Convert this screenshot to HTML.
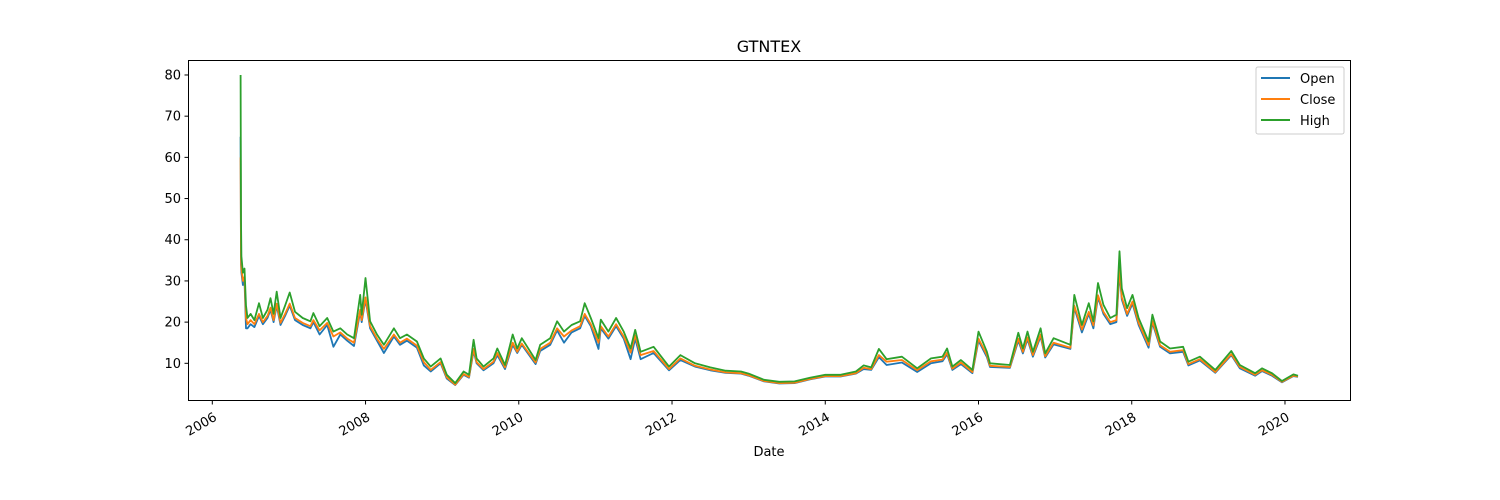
<!DOCTYPE html>
<html><head><meta charset="utf-8"><style>
body{margin:0;background:#fff;}
svg{display:block;font-family:"DejaVu Sans","Liberation Sans",sans-serif;}
</style></head><body>
<svg id="chart" width="1500" height="500" viewBox="0 0 1500 500" xmlns="http://www.w3.org/2000/svg">
<rect width="1500" height="500" fill="#fff"/>
<text x="769" y="52" font-size="16" text-anchor="middle">GTNTEX</text>
<g id="plot"></g>
<rect x="188.5" y="60.5" width="1162" height="340" fill="none" stroke="#000" stroke-width="1"/>
<g id="axes"></g>
<text x="769" y="456" font-size="13" text-anchor="middle">Date</text>
<g>
<rect x="1256" y="67" width="88" height="67" rx="2" fill="#fff" stroke="#ccc"/>
<line x1="1261" y1="78" x2="1290" y2="78" stroke="#1f77b4" stroke-width="2"/>
<text x="1300" y="83" font-size="13">Open</text>
<line x1="1261" y1="99" x2="1290" y2="99" stroke="#ff7f0e" stroke-width="2"/>
<text x="1300" y="104" font-size="13">Close</text>
<line x1="1261" y1="120" x2="1290" y2="120" stroke="#2ca02c" stroke-width="2"/>
<text x="1300" y="125" font-size="13">High</text>
</g>
</svg>
<script>
const dates=[2006.37,2006.375,2006.38,2006.40,2006.42,2006.44,2006.46,2006.50,2006.55,2006.61,2006.66,2006.72,2006.76,2006.80,2006.84,2006.89,2006.95,2007.01,2007.08,2007.18,2007.28,2007.32,2007.40,2007.50,2007.58,2007.67,2007.76,2007.85,2007.93,2007.95,2008.00,2008.06,2008.15,2008.24,2008.37,2008.45,2008.54,2008.67,2008.76,2008.85,2008.98,2009.06,2009.17,2009.28,2009.35,2009.41,2009.45,2009.54,2009.67,2009.72,2009.82,2009.92,2009.98,2010.04,2010.22,2010.28,2010.41,2010.50,2010.59,2010.69,2010.80,2010.86,2010.94,2011.04,2011.07,2011.17,2011.27,2011.37,2011.46,2011.52,2011.59,2011.76,2011.96,2012.11,2012.30,2012.50,2012.70,2012.90,2013.00,2013.20,2013.40,2013.60,2013.80,2014.00,2014.20,2014.40,2014.50,2014.60,2014.70,2014.80,2015.00,2015.20,2015.38,2015.53,2015.59,2015.66,2015.77,2015.92,2016.00,2016.11,2016.15,2016.41,2016.52,2016.58,2016.64,2016.71,2016.81,2016.87,2016.98,2017.20,2017.25,2017.35,2017.44,2017.50,2017.56,2017.63,2017.72,2017.80,2017.84,2017.87,2017.94,2018.01,2018.09,2018.22,2018.27,2018.37,2018.50,2018.67,2018.74,2018.89,2019.09,2019.30,2019.41,2019.61,2019.70,2019.83,2019.96,2020.11,2020.17];
const high=[80,45,36,32,33,24,21,22,20.5,24.6,21,23,25.8,22,27.4,21,24,27.2,22.5,21,20.2,22.2,19,21,17.7,18.5,17,16.1,26.6,21.8,30.7,20.2,17,14.5,18.5,16.1,17,15.3,11.2,9.2,11.2,7.2,5.2,8,7.2,15.7,11.2,9.2,11.2,13.6,9.6,17,13.6,16.1,10.8,14.5,16.1,20.2,17.7,19.3,20.2,24.6,21,16.1,20.6,17.7,21,17.7,13.6,18.1,12.8,14,9.2,12,10,9,8.2,8,7.5,6,5.5,5.6,6.5,7.2,7.2,8,9.5,9,13.5,11,11.6,8.8,11.2,11.6,13.6,9.2,10.8,8.4,17.7,12.8,10,9.6,17.4,13.6,17.7,12.8,18.5,12.4,16.1,14.5,26.6,19.3,24.6,20.2,29.5,24.2,21,21.8,37.2,28.2,23.4,26.6,21,15.3,21.8,15.3,13.6,14,10.4,11.6,8.4,13,9.6,7.6,8.8,7.6,5.7,7.3,7];
const close=[60,36,33,30,31,21,19.5,20.5,19.5,22,20,21.5,23.5,20.5,24.5,19.8,22,24.5,21,19.8,19,20.5,18,19.8,16.5,17.5,16,15,23,20.5,26,19,16,13.5,17,15,16,14.3,10.3,8.4,10.3,6.6,4.8,7.4,6.7,13.5,10.3,8.6,10.4,12.5,9,15,12.8,14.8,10.2,13.5,15,18.5,16.5,18,19,22,19.5,15,19,16.5,19.5,16.5,12.6,16.8,12,13,8.6,11.2,9.4,8.5,7.8,7.6,7.1,5.7,5.2,5.3,6.2,6.9,6.9,7.6,8.9,8.6,12,10.4,10.8,8.3,10.5,10.9,12.6,8.7,10.2,7.9,16,12,9.4,9.1,16,12.8,16.3,12,17,11.7,15,13.8,24,18.2,22.5,19.2,26.5,22.5,20,20.5,33,26,22,25,19.8,14.4,20.3,14.4,12.8,13.2,9.8,11,7.9,12.2,9.1,7.2,8.3,7.2,5.5,7,6.8];
const open=[65,34,32,29,30,18.5,18.5,19.5,18.8,21.5,19.5,21,23,20,24,19.3,21.5,24,20.5,19.3,18.5,20,17,19.3,14,17,15.5,14.2,22.5,20,25.5,18.5,15.5,12.5,16.5,14.5,15.5,13.8,9.5,8,10,6.3,4.7,7.2,6.5,13,10,8.3,10,12,8.6,14.5,12.5,14.5,9.8,13,14.5,18,15,17.5,18.5,21.5,19,13.5,18.5,16,19,16,11,16,11,12.5,8.3,10.8,9.2,8.3,7.7,7.5,7,5.6,5.1,5.2,6.1,6.8,6.8,7.5,8.6,8.4,11.5,9.6,10.2,7.9,10,10.5,12.2,8.4,9.8,7.6,15.5,11.5,9.1,8.9,15.5,12.4,15.8,11.6,16.5,11.4,14.6,13.5,23.5,17.5,22,18.5,26,22,19.5,20,32,25.5,21.5,24.5,19.3,13.8,19.8,14,12.4,12.8,9.5,10.7,7.7,12,8.8,7,8.1,7,5.4,6.9,6.7];
const yTicks=[10,20,30,40,50,60,70,80];
const xTicks=[2006,2008,2010,2012,2014,2016,2018,2020];
const NS="http://www.w3.org/2000/svg";
function xs(t){return 212.3+(t-2006)*76.62;}
function ys(v){return 404.5-v*4.119;}
const plot=document.getElementById('plot');
const axes=document.getElementById('axes');
function mk(tag,attrs,parent){const e=document.createElementNS(NS,tag);for(const k in attrs)e.setAttribute(k,attrs[k]);parent.appendChild(e);return e;}
function drawLine(vals,color,name){
  const d=vals.map((v,i)=>(i?'L':'M')+xs(dates[i]).toFixed(1)+','+ys(v).toFixed(1)).join('');
  const p=mk('path',{d:d,fill:'none',stroke:color,'stroke-width':1.8,'stroke-linejoin':'round'},plot);
  
  
}
drawLine(open,'#1f77b4','open-line');
drawLine(close,'#ff7f0e','close-line');
drawLine(high,'#2ca02c','high-line');
yTicks.forEach(v=>{
  const y=ys(v);
  const l=mk('line',{x1:184.5,x2:188.5,y1:y,y2:y,stroke:'#000'},axes);
  
  
  const t=mk('text',{x:181,y:y+4.5,'font-size':13,'text-anchor':'end'},axes);
  t.textContent=v;
  
  
});
xTicks.forEach(v=>{
  const x=xs(v);
  const l=mk('line',{x1:x,x2:x,y1:400.5,y2:404.5,stroke:'#000'},axes);
  
  
  const t=mk('text',{x:x+1,y:412,'font-size':13,'text-anchor':'end',transform:'rotate(-30 '+(x+1)+' 412)','dominant-baseline':'hanging'},axes);
  t.textContent=v;
  
  
});
</script>
</body></html>
